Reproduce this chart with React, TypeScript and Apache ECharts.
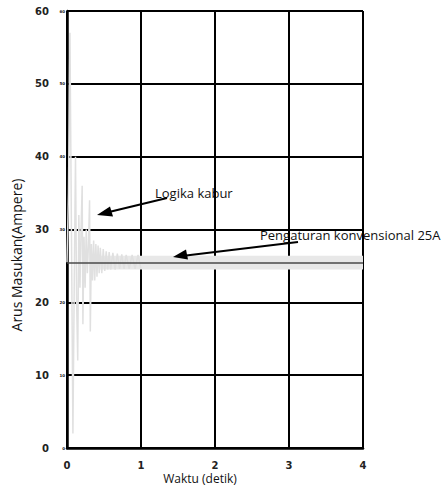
import React, { useEffect, useRef } from "react";
import * as echarts from "echarts";

// Fuzzy-logic controller input current
const signalT = [0, 0.02, 0.04, 0.06, 0.08, 0.1, 0.115, 0.13, 0.145, 0.16, 0.175, 0.19, 0.205, 0.215, 0.23, 0.245, 0.26, 0.275, 0.29, 0.305, 0.315, 0.33, 0.345, 0.36, 0.375, 0.39, 0.405, 0.42, 0.435, 0.45, 0.47, 0.49, 0.51, 0.53, 0.55, 0.57, 0.59, 0.62, 0.65, 0.68, 0.71, 0.74, 0.77, 0.8, 0.84, 0.88, 0.92, 0.96, 1.0];
const signalV = [25.5, 35, 57, 30, 2, 25, 40, 20, 12, 32, 22, 30, 36, 17, 29, 22, 30, 24, 28, 34, 16, 28, 23, 28.5, 23, 28, 23.5, 27.8, 24, 27.5, 24, 27.3, 24.3, 27, 24.5, 26.9, 24.5, 26.8, 24.5, 26.7, 24.6, 26.6, 24.6, 26.5, 24.6, 26.5, 24.6, 26.5, 24.6];
// steady-state ripple band of the signal
const bandT = [0.45, 4];
const bandV = [24.5, 26.4];
// conventional 25A regulation
const convT = [0, 4];
const convV = [25.4, 25.4];

const xTicks = [0, 4, 1];
const yTicks = [0, 60, 10];

const labelFont = "DejaVu Sans";
const textFont = "Open Sans";

export default function App() {
  const ref = useRef<HTMLDivElement>(null);
  useEffect(() => {
    if (!ref.current) return;
    const chart = echarts.init(ref.current, null, { renderer: "svg" });
    const black = "#000";
    const option: any = {
      animation: false,
      backgroundColor: "#fff",
      grid: { left: 67, right: 79, top: 11, bottom: 45 },
      xAxis: {
        type: "value",
        min: xTicks[0],
        max: xTicks[1],
        interval: xTicks[2],
        axisLine: { show: true, onZero: false, lineStyle: { color: black, width: 2.5 } },
        axisTick: { show: false },
        splitLine: { show: true, lineStyle: { color: black, width: 2 } },
        axisLabel: { color: "#222", fontFamily: labelFont, fontWeight: "bold", fontSize: 10, margin: 12 },
      },
      yAxis: [
        {
          type: "value",
          min: yTicks[0],
          max: yTicks[1],
          interval: yTicks[2],
          axisLine: { show: true, onZero: false, lineStyle: { color: black, width: 2.5 } },
          axisTick: { show: false },
          splitLine: { show: true, lineStyle: { color: black, width: 2 } },
          axisLabel: { color: "#222", fontFamily: labelFont, fontWeight: "bold", fontSize: 10, margin: 18 },
        },
        {
          type: "value",
          position: "left",
          min: yTicks[0],
          max: yTicks[1],
          interval: yTicks[2],
          axisLine: { show: false },
          axisTick: { show: false },
          splitLine: { show: false },
          axisLabel: { color: "#222", fontFamily: labelFont, fontWeight: "bold", fontSize: 4, margin: 2 },
        },
      ],
      series: [
        {
          type: "line",
          data: signalT.map((t, i) => [t, signalV[i]]),
          showSymbol: false,
          lineStyle: { color: "#e0e0e0", width: 1.5 },
          z: 3,
          markArea: {
            silent: true,
            itemStyle: { color: "#e8e8e8" },
            data: [[{ coord: [bandT[0], bandV[0]] }, { coord: [bandT[1], bandV[1]] }]],
          },
        },
        {
          type: "line",
          data: convT.map((t, i) => [t, convV[i]]),
          showSymbol: false,
          lineStyle: { color: "#4a4a4a", width: 1.5 },
          z: 4,
        },
      ],
      graphic: [
        {
          type: "text",
          x: 16,
          y: 255,
          rotation: Math.PI / 2,
          style: { text: "Arus Masukan(Ampere)", fontFamily: textFont, fontSize: 14, fill: "#111", align: "center", verticalAlign: "middle" },
        },
        {
          type: "text",
          x: 200,
          y: 478,
          style: { text: "Waktu (detik)", fontFamily: textFont, fontSize: 12, fill: "#111", align: "center", verticalAlign: "middle" },
        },
        {
          type: "text",
          x: 155,
          y: 193,
          style: { text: "Logika kabur", fontFamily: textFont, fontSize: 13, fill: "#111", align: "left", verticalAlign: "middle" },
        },
        {
          type: "text",
          x: 260,
          y: 235,
          style: { text: "Pengaturan konvensional 25A", fontFamily: textFont, fontSize: 13, fill: "#111", align: "left", verticalAlign: "middle" },
        },
        { type: "line", shape: { x1: 167, y1: 198, x2: 108, y2: 212.3 }, style: { stroke: black, lineWidth: 2 }, z: 10 },
        { type: "polygon", shape: { points: [[97, 215], [110, 206.5], [113, 216.5]] }, style: { fill: black }, z: 10 },
        { type: "line", shape: { x1: 298, y1: 242, x2: 184, y2: 255.7 }, style: { stroke: black, lineWidth: 2 }, z: 10 },
        { type: "polygon", shape: { points: [[173, 257], [186, 249.5], [188, 259.5]] }, style: { fill: black }, z: 10 },
      ],
    };
    chart.setOption(option);
    return () => chart.dispose();
  }, []);
  return <div ref={ref} style={{ width: 442, height: 493, position: "absolute", left: 0, top: 0 }} />;
}
